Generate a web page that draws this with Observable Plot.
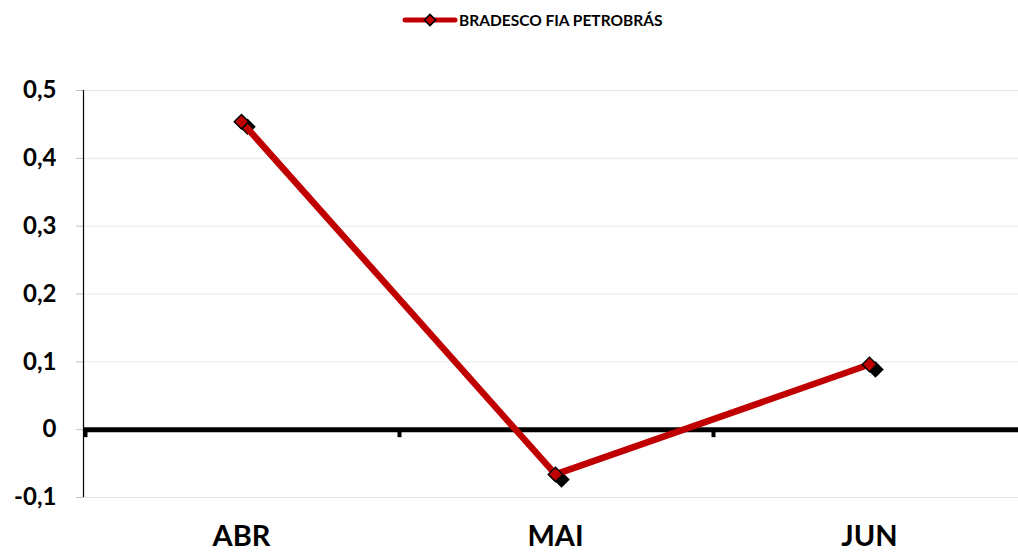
<!DOCTYPE html>
<html>
<head>
<meta charset="utf-8">
<script src="https://cdn.jsdelivr.net/npm/d3@7"></script>
<script src="https://cdn.jsdelivr.net/npm/@observablehq/plot@0.6"></script>
<style>
  body { margin: 0; background: #fff; font-family: Lato, "Open Sans", sans-serif; }
  #legend { height: 40px; position: relative; }
  #legend svg { position: absolute; left: 400px; top: 10px; overflow: visible; }
  #legend span { position: absolute; left: 459px; top: 11px; font-size: 15.5px; font-weight: bold; color: #000; }
</style>
</head>
<body>
<div id="legend"></div>
<div id="chart"></div>
<script>
const seriesName = "BRADESCO FIA PETROBRÁS";
const months = ["ABR", "MAI", "JUN"];
const values = [0.454, -0.066, 0.096];
const yTicks = [-0.1, 0, 0.1, 0.2, 0.3, 0.4, 0.5];
const lineColor = "#C00000";

const data = months.map((m, i) => ({month: m, value: values[i]}));
const fmt = d => String(d).replace(".", ",");

// legend
const leg = document.getElementById("legend");
leg.innerHTML = `<svg width="60" height="20"><line x1="5" x2="55" y1="10" y2="10" stroke="${lineColor}" stroke-width="5" stroke-linecap="round"/><rect x="26" y="6" width="8" height="8" transform="rotate(45 30 10)" fill="${lineColor}" stroke="#000" stroke-width="1.5"/></svg><span>${seriesName}</span>`;

const xLeft = 84, xRight = 1026;
const bw = (xRight - xLeft) / months.length;

const chart = Plot.plot({
  width: 1018,
  height: 512,
  marginTop: 50,
  marginBottom: 55,
  marginLeft: 84,
  marginRight: 0,
  style: {fontFamily: "Lato, 'Open Sans', sans-serif", fontWeight: "bold", color: "#000", background: "#fff", overflow: "visible"},
  x: {type: "band", domain: months, range: [xLeft, xRight], padding: 0, label: null},
  y: {domain: [-0.1, 0.5], label: null},
  marks: [
    Plot.ruleY(yTicks.filter(d => d !== 0), {stroke: "#e6e6e6", strokeWidth: 1}),
    Plot.axisY({ticks: yTicks, tickFormat: fmt, tickSize: 8, tickPadding: 20, stroke: "#bfbfbf", fontSize: 24, fontWeight: "bold", fill: "#000", label: null}),
    Plot.ruleX(months.slice(0, 1), {x: d => d, dx: -bw / 2 - 1, y1: -0.1, y2: 0.5, stroke: "#000", strokeWidth: 1.2}),
    Plot.ruleY([0], {stroke: "#000", strokeWidth: 5}),
    Plot.ruleX(months, {x: d => d, dx: -bw / 2 + 1, y1: 0, y2: 0, insetBottom: -8, stroke: "#000", strokeWidth: 4}),
    Plot.axisX({tickSize: 0, tickPadding: 28, fontSize: 29, fontWeight: "bold", fill: "#000", label: null}),
    Plot.dot(data, {x: "month", y: "value", dx: 6, dy: 5, symbol: "diamond2", r: 6.5, fill: "#000", stroke: "#000", strokeWidth: 1.5}),
    Plot.line(data, {x: "month", y: "value", stroke: lineColor, strokeWidth: 6.5, strokeLinecap: "butt"}),
    Plot.dot(data, {x: "month", y: "value", symbol: "diamond2", r: 6.5, fill: lineColor, stroke: "#000", strokeWidth: 1.5})
  ]
});
document.getElementById("chart").appendChild(chart);
</script>
</body>
</html>
